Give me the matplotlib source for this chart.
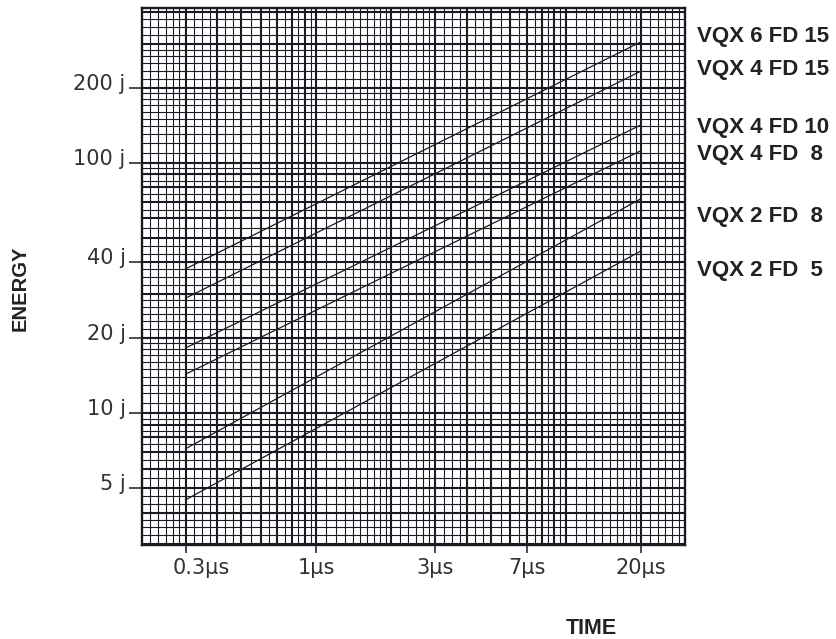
import numpy as np
import matplotlib.pyplot as plt

# energy vs pulse time
time_us = [0.3, 20]
series = ["VQX 6 FD 15", "VQX 4 FD 15", "VQX 4 FD 10",
          "VQX 4 FD  8", "VQX 2 FD  8", "VQX 2 FD  5"]
energy_start = [37.7, 28.8, 18.2, 14.3, 7.2, 4.5]
energy_end = [305, 233, 142, 112, 72, 44.5]
label_y = [320, 237, 139, 108, 61, 37]

xticks = [0.3, 1, 3, 7, 20]
xticklabels = ["0.3µs", "1µs", "3µs", "7µs", "20µs"]
yticks = [5, 10, 20, 40, 100, 200]
yticklabels = ["5 j", "10 j", "20 j", "40 j", "100 j", "200 j"]

xlim = (0.2, 30)
ylim = (2.97, 415)

ink = "#1a1a22"

# subdivisions of the graph paper between d and d+1
subdiv = {1: 10, 2: 6, 3: 4, 4: 3, 5: 2, 6: 2, 7: 2, 8: 2, 9: 2}


def paper_lines(lo, hi):
    heavy, fine = [], []
    for e in range(-2, 4):
        for d in range(1, 10):
            base = d * 10.0 ** e
            if lo < base < hi:
                heavy.append(base)
            n = subdiv[d]
            for k in range(1, n):
                v = (d + k / n) * 10.0 ** e
                if lo < v < hi:
                    fine.append(v)
    return heavy, fine


fig = plt.figure(figsize=(8.37, 6.39), dpi=100)
ax = fig.add_axes([0.1691, 0.1471, 0.6494, 0.8399])
ax.set_xscale("log")
ax.set_yscale("log")
ax.set_xlim(*xlim)
ax.set_ylim(*ylim)

hx, fx = paper_lines(*xlim)
hy, fy = paper_lines(*ylim)
for v in fx:
    ax.axvline(v, color=ink, lw=0.8, zorder=1)
for v in fy:
    ax.axhline(v, color=ink, lw=0.8, zorder=1)
for v in hx:
    ax.axvline(v, color=ink, lw=1.5, zorder=2)
for v in hy:
    ax.axhline(v, color=ink, lw=1.5, zorder=2)

for s, e0, e1 in zip(series, energy_start, energy_end):
    ax.plot(time_us, [e0, e1], color=ink, lw=0.9, zorder=3)

for sp in ax.spines.values():
    sp.set_linewidth(1.7)
    sp.set_color(ink)

ax.xaxis.set_minor_locator(plt.NullLocator())
ax.yaxis.set_minor_locator(plt.NullLocator())
ax.set_xticks(xticks)
ax.set_yticks(yticks)
ax.set_xticklabels([])
ax.set_yticklabels([])
ax.tick_params(axis="x", length=6, width=1.1, color=ink, direction="out")
ax.tick_params(axis="y", length=9.5, width=1.1, color=ink, direction="out")

for i, (v, lab) in enumerate(zip(xticks, xticklabels)):
    dx = 16 if i == 0 else 0
    ax.annotate(lab, xy=(v, 0), xycoords=("data", "axes fraction"),
                xytext=(dx, -13), textcoords="offset pixels",
                ha="center", va="top", fontsize=15, color="#333333",
                family="DejaVu Sans")

for v, lab in zip(yticks, yticklabels):
    ax.annotate(lab, xy=(0, v), xycoords=("axes fraction", "data"),
                xytext=(-16, -2), textcoords="offset pixels",
                ha="right", va="baseline", fontsize=15, color="#333333",
                family="DejaVu Sans")

for s, ly in zip(series, label_y):
    ax.annotate(s, xy=(1, ly), xycoords=("axes fraction", "data"),
                xytext=(12, 0), textcoords="offset pixels",
                ha="left", va="center", fontsize=16, fontweight="bold",
                color="#222222", family="Liberation Sans")

fig.text(20 / 837, 1 - 288 / 639, "ENERGY", rotation=90, ha="center",
         va="center", fontsize=14.5, fontweight="bold", color="#222222",
         family="Liberation Sans")
fig.text(591 / 837, 1 - 628 / 639, "TIME", ha="center", va="center",
         fontsize=15.5, fontweight="bold", color="#222222",
         family="Liberation Sans")

fig.savefig("out.png", dpi=100)
